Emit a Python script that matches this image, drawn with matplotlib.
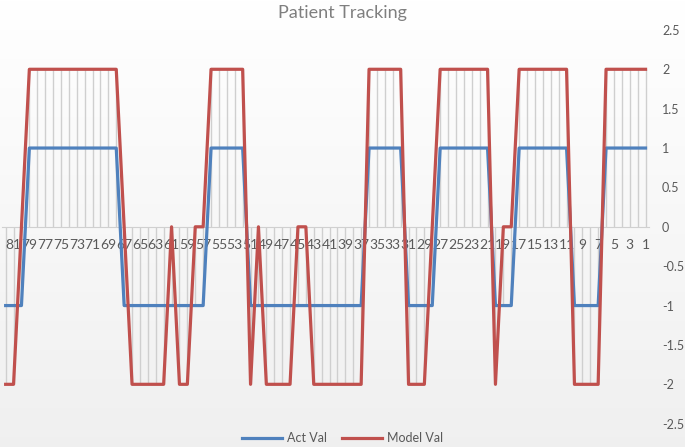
import numpy as np
import matplotlib
matplotlib.use('Agg')
import matplotlib.pyplot as plt

plt.rcParams['font.family'] = ['Lato', 'DejaVu Sans']

# categories 1..82, axis shown reversed (82 on the left)
cats = list(range(1, 83))
act_val = [1, 1, 1, 1, 1, 1,
           -1, -1, -1, -1,
           1, 1, 1, 1, 1, 1, 1,
           -1, -1, -1,
           1, 1, 1, 1, 1, 1, 1,
           -1, -1, -1, -1,
           1, 1, 1, 1, 1,
           -1, -1, -1, -1, -1, -1, -1, -1, -1, -1, -1, -1, -1, -1, -1,
           1, 1, 1, 1, 1,
           -1, -1, -1, -1, -1, -1, -1, -1, -1, -1, -1,
           1, 1, 1, 1, 1, 1, 1, 1, 1, 1, 1, 1,
           -1, -1, -1]
model_val = [2, 2, 2, 2, 2, 2,
             -2, -2, -2, -2,
             2, 2, 2, 2, 2, 2, 2,
             0, 0,
             -2,
             2, 2, 2, 2, 2, 2, 2,
             0,
             -2, -2, -2,
             2, 2, 2, 2, 2,
             -2, -2, -2, -2, -2, -2, -2,
             0, 0,
             -2, -2, -2, -2,
             0,
             -2,
             2, 2, 2, 2, 2,
             0, 0,
             -2, -2,
             0,
             -2, -2, -2, -2, -2,
             0,
             2, 2, 2, 2, 2, 2, 2, 2, 2, 2, 2, 2,
             0,
             -2, -2]
y_ticks = [-2.5, -2, -1.5, -1, -0.5, 0, 0.5, 1, 1.5, 2, 2.5]
x_labels = cats[::2]

W, H = 685, 447
fig = plt.figure(figsize=(W / 100, H / 100), dpi=100)

# soft vertical gradient behind everything
bg = fig.add_axes([0, 0, 1, 1], zorder=-10)
grad = np.linspace(1.0, 0.94, 256).reshape(-1, 1)
bg.imshow(np.dstack([grad, grad, grad]), aspect='auto', extent=[0, 1, 0, 1])
bg.axis('off')

ax = fig.add_axes([1.7 / W, 1 - 423.7 / H, (649.5 - 1.7) / W, (423.7 - 29.9) / H])
ax.patch.set_alpha(0)

acts = np.array(act_val)
mods = np.array(model_val)
lo = np.minimum(0, np.minimum(acts, mods))
hi = np.maximum(0, np.maximum(acts, mods))
ax.vlines(cats, lo, hi, color='#cfcfcf', lw=1, zorder=1)

ax.plot(cats, act_val, color='#4F81BD', lw=2.3, zorder=3, label='Act Val',
        solid_joinstyle='round')
ax.plot(cats, model_val, color='#C0504D', lw=2.3, zorder=4, label='Model Val',
        solid_joinstyle='round')

ax.set_xlim(82.5, 0.5)
ax.set_ylim(-2.5, 2.5)

for s in ['top', 'left', 'right']:
    ax.spines[s].set_visible(False)
ax.spines['bottom'].set_position(('data', 0))
ax.spines['bottom'].set_color('#d0d0d0')
ax.spines['bottom'].set_zorder(1)

ax.set_xticks(x_labels)
ax.set_xticklabels([str(c) for c in x_labels])
ax.tick_params(axis='x', length=0, pad=9, labelsize=10, labelcolor='#595959')

ax.yaxis.tick_right()
ax.set_yticks(y_ticks)
ax.set_yticklabels(['%g' % v for v in y_ticks])
ax.tick_params(axis='y', length=0, pad=9, labelsize=9, labelcolor='#595959')

fig.text(0.5, 1 - 13 / H, 'Patient Tracking', ha='center', va='center',
         fontsize=13, color='#7f7f7f')

fig.legend(loc='center', bbox_to_anchor=(343 / W, 1 - 438 / H), ncol=2,
           frameon=False, fontsize=9, labelcolor='#595959', handlelength=3.2,
           columnspacing=1.2, handletextpad=0.4)

fig.savefig('out.png', dpi=100)
